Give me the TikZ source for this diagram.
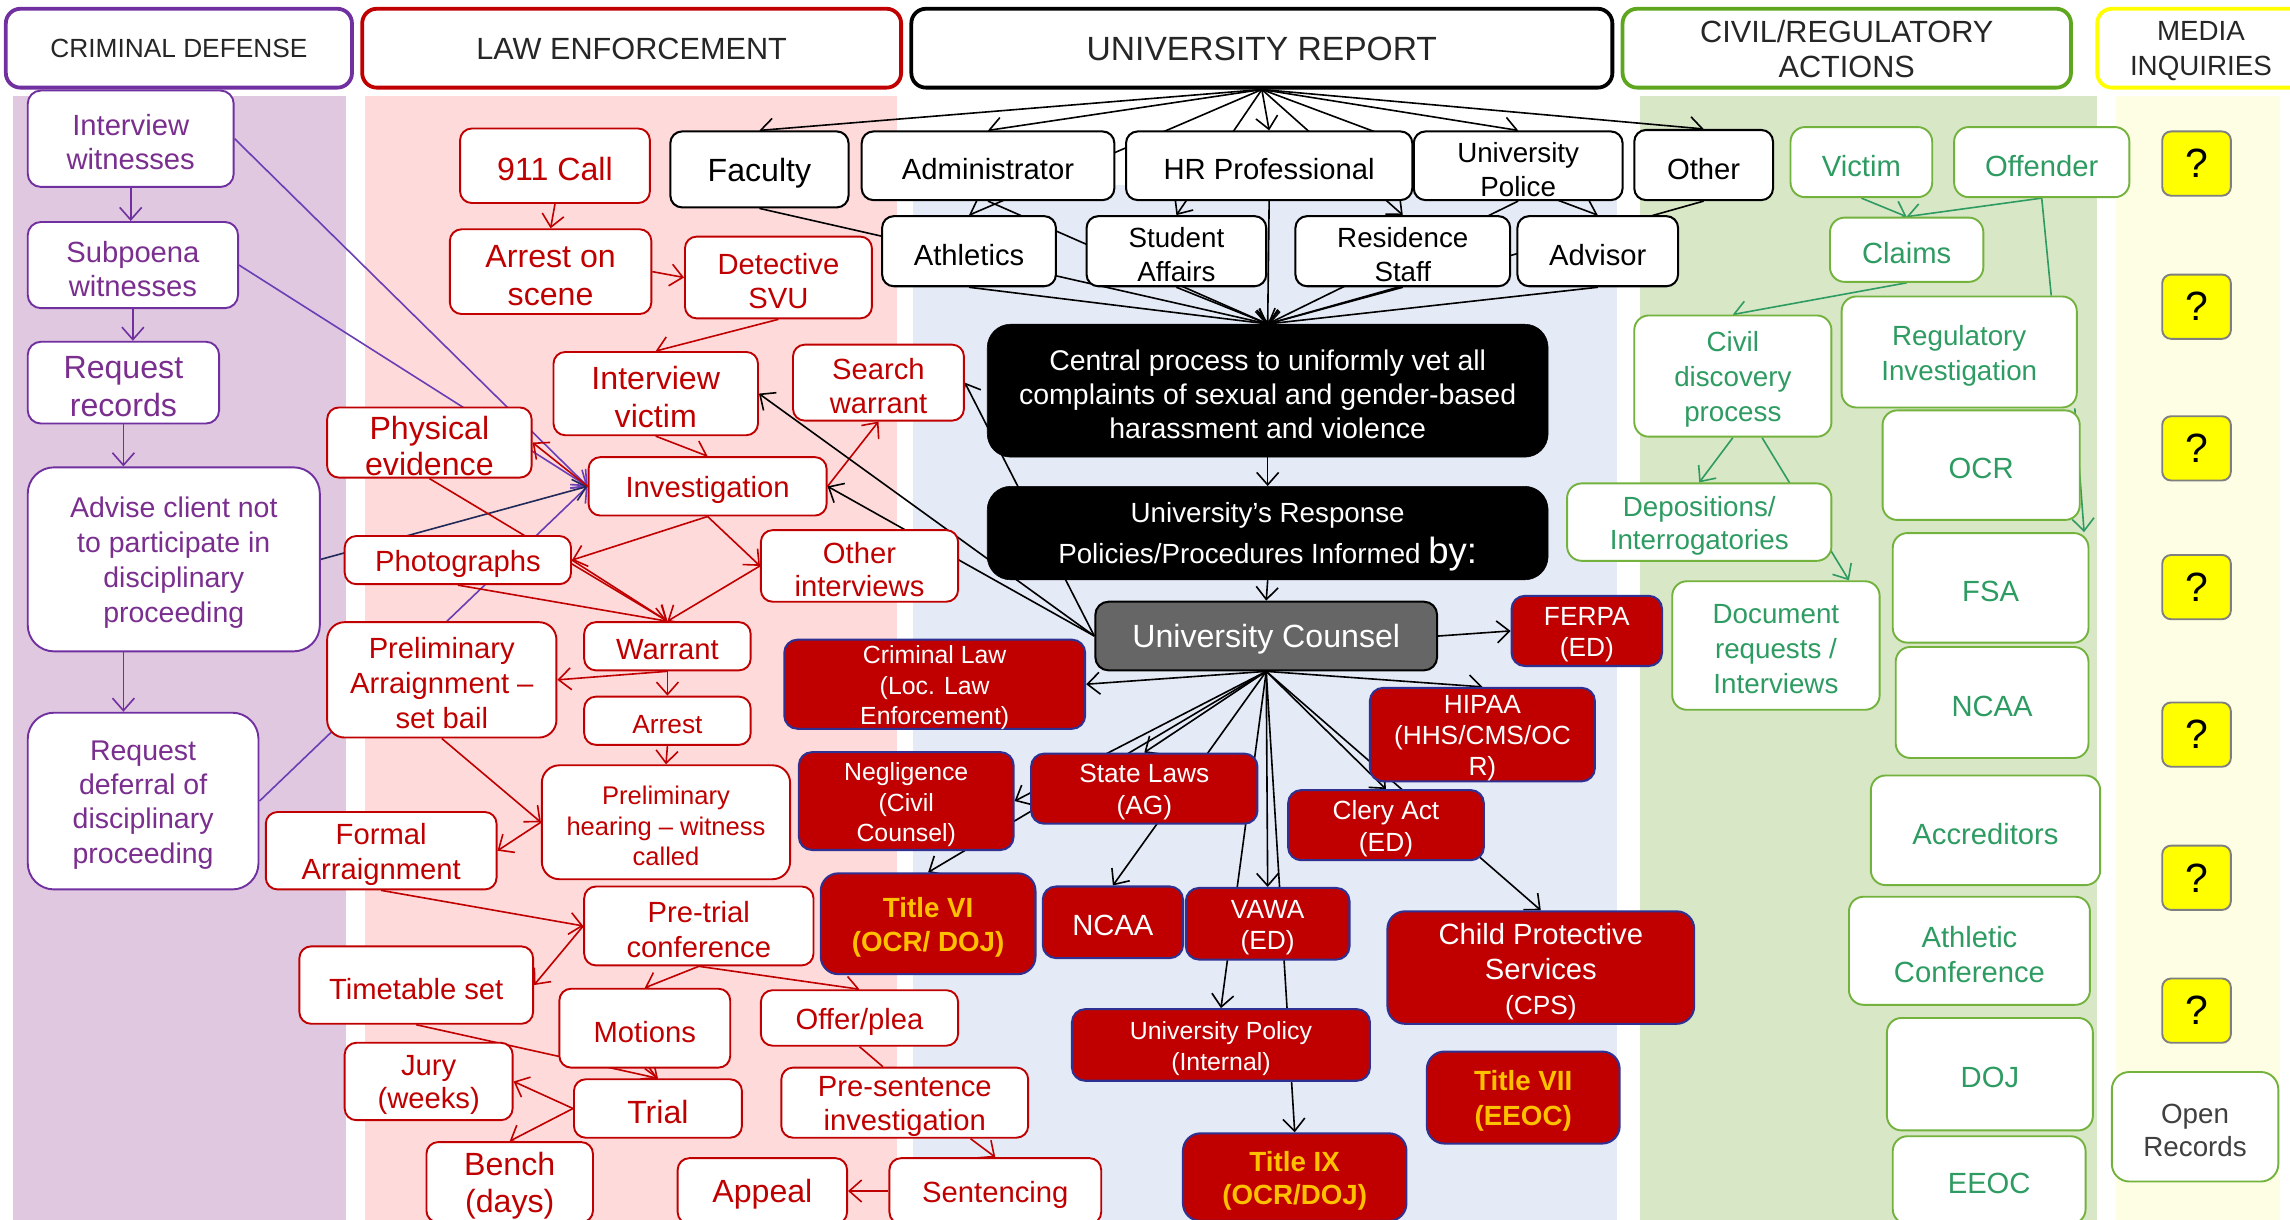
\documentclass[tikz,border=0pt]{standalone}
\usepackage{fontspec}
\setmainfont{Liberation Sans}
\usetikzlibrary{arrows.meta}

\definecolor{cdpurple}{HTML}{7030A0}
\definecolor{cdtext}{HTML}{7A2F8F}
\definecolor{cdline}{HTML}{6A3FB5}
\definecolor{navyline}{HTML}{1F2A5A}
\definecolor{lered}{HTML}{C00000}
\definecolor{rfblue}{HTML}{2E3192}
\definecolor{goldtxt}{HTML}{FFC000}
\definecolor{hdrgreen}{HTML}{5EA61E}
\definecolor{civgreen}{HTML}{72B23D}
\definecolor{grtext}{HTML}{2E9C62}
\definecolor{medyellow}{HTML}{FFFF00}
\definecolor{bgpurple}{HTML}{DFC8E0}
\definecolor{bgpink}{HTML}{FFDADA}
\definecolor{bgblue}{HTML}{E4EAF6}
\definecolor{bggreen}{HTML}{D8E7C6}
\definecolor{bgyellow}{HTML}{FEFEE4}
\definecolor{hdrtext}{HTML}{262626}
\definecolor{counselgray}{HTML}{666666}
\definecolor{qborder}{HTML}{7F7F7F}
\definecolor{opentext}{HTML}{404040}

\pgfdeclarelayer{cols}
\pgfdeclarelayer{edges}
\pgfsetlayers{cols,edges,main}

\newcommand\fs[2]{\fontsize{#1}{#2}\selectfont}
\def\bxdy{2.5}
% box from its corners (x1,y1)-(x2,y2), y downwards; #1 style, #2 name, #7 text.
% The named node is the frame; its text is set \bxdy lower in a second node.
\newcommand\bx[7]{%
  \pgfmathsetmacro\bxw{#5-#3}\pgfmathsetmacro\bxh{#6-#4}%
  \pgfmathsetmacro\bxx{(#3+#5)/2}\pgfmathsetmacro\bxy{(#4+#6)/2}%
  \pgfmathsetmacro\bxt{\bxy+\bxdy}%
  \node[#1, minimum width=\bxw pt, minimum height=\bxh pt] (#2) at (\bxx,\bxy) {};
  \node[#1, draw=none, fill=none, minimum width=0pt, minimum height=0pt] at (\bxx,\bxt) {#7};}

\tikzset{
  base/.style={rectangle, align=center, inner sep=0pt, fill=white},
  hdr/.style={base, rounded corners=10pt, line width=2.6pt, text=hdrtext},
  cd/.style={base, draw=cdpurple, text=cdtext, line width=1.3pt, rounded corners=9pt},
  le/.style={base, draw=lered, text=lered, line width=1.3pt, rounded corners=8pt},
  ur/.style={base, draw=black, text=black, line width=1.4pt, rounded corners=8pt},
  blk/.style={rectangle, align=center, inner sep=0pt, fill=black, draw=black, text=white, rounded corners=16pt},
  rf/.style={rectangle, align=center, inner sep=0pt, fill=lered, draw=rfblue, line width=1.4pt, text=white, rounded corners=9pt},
  rfgold/.style={rf, text=goldtxt, rounded corners=12pt},
  gr/.style={base, draw=civgreen, text=grtext, line width=1.3pt, rounded corners=10pt},
  qbox/.style={rectangle, fill=medyellow, draw=qborder, line width=1.3pt, rounded corners=6pt, minimum width=47pt, minimum height=44pt, inner sep=0pt, font=\fs{28}{30}},
  ar/.style={-{Straight Barb[length=8.5pt,width=15pt]}, line width=1.1pt},
  cdar/.style={ar, draw=cdpurple},
  cdln/.style={ar, draw=cdline},
  navar/.style={ar, draw=navyline},
  lear/.style={ar, draw=lered},
  leln/.style={line width=1.1pt, draw=lered},
  bkar/.style={ar, draw=black},
  grar/.style={ar, draw=grtext},
  grln/.style={line width=1.1pt, draw=grtext},
}

\begin{document}
\begin{tikzpicture}[x=1pt, y=-1pt]
\path[use as bounding box] (0,0) rectangle (1568,835);
\clip (0,0) rectangle (1568,835);

% page and column backgrounds
\begin{pgfonlayer}{cols}
  \fill[white] (0,0) rectangle (1568,835);
  \fill[bgpurple] (9,66) rectangle (237,835);
  \fill[bgpink] (250,66) rectangle (614,835);
  \fill[bgblue] (625,127) rectangle (1107,835);
  \fill[bggreen] (1123,66) rectangle (1436,835);
  \fill[bgyellow] (1449,66) rectangle (1561,835);
\end{pgfonlayer}

% column headers
\def\bxdy{0.5}
\bx{hdr,draw=cdpurple,font=\fs{18}{21}}{hcd}{4}{6}{241}{60}{CRIMINAL DEFENSE}
\bx{hdr,draw=lered,font=\fs{21}{25}}{hle}{248}{6}{617}{60}{LAW ENFORCEMENT}
\bx{hdr,draw=black,font=\fs{23}{27}}{rpt}{624}{6}{1104}{60}{UNIVERSITY REPORT}
\bx{hdr,draw=hdrgreen,font=\fs{21}{24}}{hcv}{1111}{6}{1418}{60}{CIVIL/REGULATORY\\ACTIONS}
\def\bxdy{2}
\bx{hdr,draw=medyellow,font=\fs{19}{24}}{hmd}{1436}{6}{1578}{60}{MEDIA\\INQUIRIES}
\def\bxdy{2.5}

% criminal defense
\bx{cd,font=\fs{20}{23.5}}{cd1}{19}{62}{160}{128}{Interview\\witnesses}
\bx{cd,font=\fs{20}{23.5}}{cd2}{19}{152}{163}{211}{Subpoena\\witnesses}
\bx{cd,font=\fs{22}{26}}{cd3}{19}{234}{150}{290}{Request\\records}
\bx{cd,rounded corners=18pt,font=\fs{19.5}{24}}{cd4}{19}{320}{219}{446}{Advise client not\\to participate in\\disciplinary\\proceeding}
\bx{cd,rounded corners=18pt,font=\fs{19.5}{23.5}}{cd5}{19}{488}{177}{609}{Request\\deferral of\\disciplinary\\proceeding}

% law enforcement
\bx{le,font=\fs{22}{26}}{n911}{315}{88}{445}{139}{911 Call}
\bx{le,font=\fs{22}{26}}{arrscene}{308}{157}{446}{215}{Arrest on\\scene}
\bx{le,font=\fs{20}{23.5}}{detsvu}{469}{162}{597}{218}{Detective\\SVU}
\bx{le,font=\fs{22}{26}}{intvic}{379}{241}{519}{298}{Interview\\victim}
\bx{le,font=\fs{20}{23}}{searchw}{543}{236}{660}{288}{Search\\warrant}
\bx{le,font=\fs{22}{25}}{physev}{224}{279}{364}{327}{Physical\\evidence}
\bx{le,font=\fs{20}{24}}{invest}{403}{313}{566}{353}{Investigation}
\bx{le,font=\fs{20}{24}}{photos}{236}{367}{391}{400}{Photographs}
\bx{le,font=\fs{20}{23}}{otherint}{521}{363}{656}{412}{Other\\interviews}
\bx{le,font=\fs{20}{24}}{warrant}{400}{426}{514}{459}{Warrant}
\bx{le,rounded corners=12pt,font=\fs{20}{24}}{prelarr}{224}{426}{381}{505}{Preliminary\\Arraignment \textendash\\set bail}
\bx{le,font=\fs{18}{22}}{arrest}{400}{477}{514}{510}{Arrest}
\bx{le,rounded corners=12pt,font=\fs{17.5}{21}}{prelhear}{371}{524}{541}{602}{Preliminary\\hearing \textendash\ witness\\called}
\bx{le,font=\fs{20}{24}}{formarr}{182}{556}{340}{609}{Formal\\Arraignment}
\bx{le,font=\fs{20}{24}}{pretrial}{400}{607}{557}{661}{Pre-trial\\conference}
\bx{le,font=\fs{20}{24}}{timetable}{205}{648}{365}{701}{Timetable set}
\bx{le,font=\fs{20}{24}}{motions}{383}{677}{500}{731}{Motions}
\bx{le,font=\fs{20}{24}}{offer}{521}{678}{656}{716}{Offer/plea}
\bx{le,font=\fs{20}{23}}{jury}{236}{714}{351}{767}{Jury\\(weeks)}
\bx{le,font=\fs{22}{26}}{trial}{393}{739}{508}{779}{Trial}
\bx{le,font=\fs{20}{23}}{present}{535}{731}{704}{779}{Pre-sentence\\investigation}
\bx{le,font=\fs{22}{25}}{bench}{292}{782}{406}{837}{Bench\\(days)}
\bx{le,font=\fs{22}{26}}{appeal}{464}{793}{580}{838}{Appeal}
\bx{le,font=\fs{20}{24}}{sentencing}{609}{793}{754}{838}{Sentencing}

% university report: who receives it
\bx{ur,font=\fs{22}{26}}{faculty}{459}{90}{581}{142}{Faculty}
\bx{ur,font=\fs{20}{24}}{admin}{590}{90}{763}{137}{Administrator}
\bx{ur,font=\fs{20}{24}}{hr}{771}{90}{967}{137}{HR Professional}
\bx{ur,font=\fs{19}{23}}{upolice}{968}{90}{1111}{137}{University\\Police}
\bx{ur,font=\fs{20}{24}}{other}{1119}{89}{1214}{137}{Other}
\bx{ur,font=\fs{20}{24}}{athletics}{604}{148}{723}{196}{Athletics}
\bx{ur,font=\fs{19}{23}}{stuaff}{744}{148}{867}{196}{Student\\Affairs}
\bx{ur,font=\fs{19}{23}}{resstaff}{887}{148}{1034}{196}{Residence\\Staff}
\bx{ur,font=\fs{20}{24}}{advisor}{1039}{148}{1149}{196}{Advisor}

\bx{blk,font=\fs{19.5}{23.5}}{central}{676}{222}{1060}{313}{Central process to uniformly vet all\\complaints of sexual and gender-based\\harassment and violence}
\bx{blk,font=\fs{19}{28}}{response}{676}{333}{1060}{397}{University’s Response\\Policies/Procedures Informed {\fs{25}{28}by:}}
\bx{blk,fill=counselgray,line width=1.4pt,rounded corners=9pt,font=\fs{22}{26}}{counsel}{750}{412}{984}{459}{University Counsel}

% laws and agencies
\bx{rf,font=\fs{17}{21}}{crimlaw}{537}{438}{743}{499}{Criminal Law\\(Loc. Law\\Enforcement)}
\bx{rf,font=\fs{18}{21}}{ferpa}{1035}{408}{1138}{456}{FERPA\\(ED)}
\bx{rf,font=\fs{18}{21}}{hipaa}{938}{471}{1092}{535}{HIPAA\\(HHS/CMS/OC\\R)}
\bx{rf,font=\fs{17}{21}}{negl}{547}{515}{694}{582}{Negligence\\(Civil\\Counsel)}
\bx{rf,font=\fs{18}{22}}{statelaws}{706}{516}{861}{564}{State Laws\\(AG)}
\bx{rf,font=\fs{18}{22}}{clery}{882}{541}{1016}{589}{Clery Act\\(ED)}
\bx{rfgold,font=\fs{19}{23}\bfseries}{titlevi}{562}{598}{709}{667}{Title VI\\(OCR/ DOJ)}
\bx{rf,font=\fs{20}{24}}{ncaa}{714}{607}{810}{656}{NCAA}
\bx{rf,font=\fs{18}{21}}{vawa}{812}{608}{924}{657}{VAWA\\(ED)}
\bx{rf,rounded corners=12pt,font=\fs{20}{24}}{cps}{950}{624}{1160}{701}{Child Protective\\Services\\{\fs{18}{22}(CPS)}}
\bx{rf,font=\fs{17}{21}}{univpol}{734}{691}{938}{740}{University Policy\\(Internal)}
\bx{rfgold,font=\fs{19}{24}\bfseries}{titlevii}{977}{720}{1109}{783}{Title VII\\(EEOC)}
\bx{rfgold,font=\fs{19}{23}\bfseries}{titleix}{810}{776}{963}{836}{Title IX\\(OCR/DOJ)}

% civil / regulatory actions
\bx{gr,font=\fs{20}{24}}{victim}{1226}{87}{1323}{135}{Victim}
\bx{gr,font=\fs{20}{24}}{offender}{1338}{87}{1458}{135}{Offender}
\bx{gr,font=\fs{20}{24}}{claims}{1253}{149}{1358}{193}{Claims}
\bx{gr,font=\fs{19}{24}}{civildisc}{1119}{216}{1254}{299}{Civil\\discovery\\process}
\bx{gr,font=\fs{19}{24}}{regulatory}{1261}{203}{1422}{279}{Regulatory\\Investigation}
\bx{gr,font=\fs{20}{24}}{ocr}{1289}{281}{1424}{356}{OCR}
\bx{gr,font=\fs{19}{23}}{depos}{1073}{331}{1254}{384}{Depositions/\\Interrogatories}
\bx{gr,font=\fs{20}{24}}{fsa}{1296}{365}{1430}{440}{FSA}
\bx{gr,font=\fs{19}{24}}{docreq}{1145}{398}{1287}{486}{Document\\requests /\\Interviews}
\bx{gr,font=\fs{20}{24}}{ncaatwo}{1298}{443}{1430}{519}{NCAA}
\bx{gr,font=\fs{20}{24}}{accred}{1281}{531}{1438}{606}{Accreditors}
\bx{gr,font=\fs{20}{24}}{athconf}{1266}{614}{1431}{688}{Athletic\\Conference}
\bx{gr,font=\fs{20}{24}}{doj}{1292}{697}{1433}{774}{DOJ}
\bx{gr,font=\fs{20}{24}}{eeoc}{1296}{778}{1428}{838}{EEOC}

% media inquiries
\node[qbox] (q1) at (1504,112) {?};
\node[qbox] (q2) at (1504,210) {?};
\node[qbox] (q3) at (1504,307) {?};
\node[qbox] (q4) at (1504,402) {?};
\node[qbox] (q5) at (1504,503) {?};
\node[qbox] (q6) at (1504,601) {?};
\node[qbox] (q7) at (1504,692) {?};
\bx{base,draw=civgreen,text=opentext,line width=1.3pt,rounded corners=12pt,font=\fs{19}{23}}{openrec}{1446}{734}{1560}{809}{Open\\Records}

\begin{pgfonlayer}{edges}
  % criminal defense
  \draw[cdar] (cd1.south) -- (cd1.south |- cd2.north);
  \draw[cdar] (cd2.south) -- (cd2.south |- cd3.north);
  \draw[cdar] (cd3.south) -- (cd3.south |- cd4.north);
  \draw[cdar] (cd3.south |- cd4.south) -- (cd3.south |- cd5.north);
  \draw[cdln] (cd1.east) -- (invest.west);
  \draw[cdln] (cd2.east) -- (invest.west);
  \draw[cdln] (cd5.east) -- (invest.west);
  \draw[navar] (cd4.east) -- (invest.west);

  % law enforcement
  \draw[lear] (n911.south) -- (arrscene.north);
  \draw[lear] (arrscene.east) -- (detsvu.west);
  \draw[lear] (detsvu.south) -- (intvic.north);
  \draw[lear] (intvic.south) -- (invest.north);
  \draw[lear] (invest.east) -- (searchw.south);
  \draw[lear] (invest.west) -- (physev.east);
  \draw[lear] (invest.south) -- (photos.east);
  \draw[lear] (invest.south) -- (otherint.west);
  \draw[lear] (photos.east) -- (warrant.north);
  \draw[lear] (photos.south) -- (warrant.north);
  \draw[lear] (otherint.west) -- (warrant.north);
  \draw[lear] (physev.south) -- (warrant.north);
  \draw[lear] (warrant.south) -- (prelarr.east);
  \draw[lear] (warrant.south) -- (arrest.north);
  \draw[lear] (arrest.south) -- (prelhear.north);
  \draw[lear] (prelarr.south) -- (prelhear.west);
  \draw[lear] (prelhear.west) -- (formarr.east);
  \draw[lear] (formarr.south) -- (pretrial.west);
  \draw[lear] (pretrial.west) -- (timetable.east);
  \draw[lear] (pretrial.south) -- (motions.north);
  \draw[lear] (pretrial.south) -- (offer.north);
  \draw[leln] (offer.south) -- ([xshift=-15pt]present.north);
  \draw[lear] ([xshift=45pt]present.south) -- (sentencing.north);
  \draw[lear] (sentencing.west) -- (appeal.east);
  \draw[lear] (timetable.south) -- (trial.north);
  \draw[lear] (motions.south) -- (trial.north);
  \draw[lear] (trial.west) -- (jury.east);
  \draw[lear] (trial.west) -- (bench.north);

  % university report fan-out
  \foreach \n in {faculty,admin,hr,upolice,other,athletics,stuaff,resstaff,advisor}
    \draw[bkar] (rpt.south) -- (\n.north);
  \foreach \n in {faculty,admin,hr,upolice,other,athletics,stuaff,resstaff,advisor}
    \draw[bkar] (\n.south) -- (central.north);
  \draw[bkar] (central.south) -- (response.north);
  \draw[bkar] (response.south) -- (counsel.north);

  % university counsel
  \draw[bkar] (counsel.west) -- (intvic.east);
  \draw[bkar] (counsel.west) -- (invest.east);
  \draw[bkar] (counsel.west) -- (searchw.east);
  \draw[bkar] (counsel.east) -- (ferpa.west);
  \foreach \n in {crimlaw.east,statelaws.north,negl.east,titlevi.north,ncaa.north,vawa.north,univpol.north,titleix.north,clery.north,cps.north,hipaa.north}
    \draw[bkar] (counsel.south) -- (\n);

  % civil / regulatory
  \draw[grar] (victim.south) -- (claims.north);
  \draw[grar] (offender.south) -- (claims.north);
  \draw[grar] (claims.south) -- (civildisc.north);
  \draw[grln] (offender.south) -- ([xshift=63pt]regulatory.north);
  \draw[grar] ([xshift=-2pt]regulatory.south east) -- ([xshift=64pt]fsa.north);
  \draw[grar] (civildisc.south) -- (depos.north);
  \draw[grar] ([xshift=20pt]civildisc.south) -- ([xshift=50pt]docreq.north);
\end{pgfonlayer}
\end{tikzpicture}
\end{document}
